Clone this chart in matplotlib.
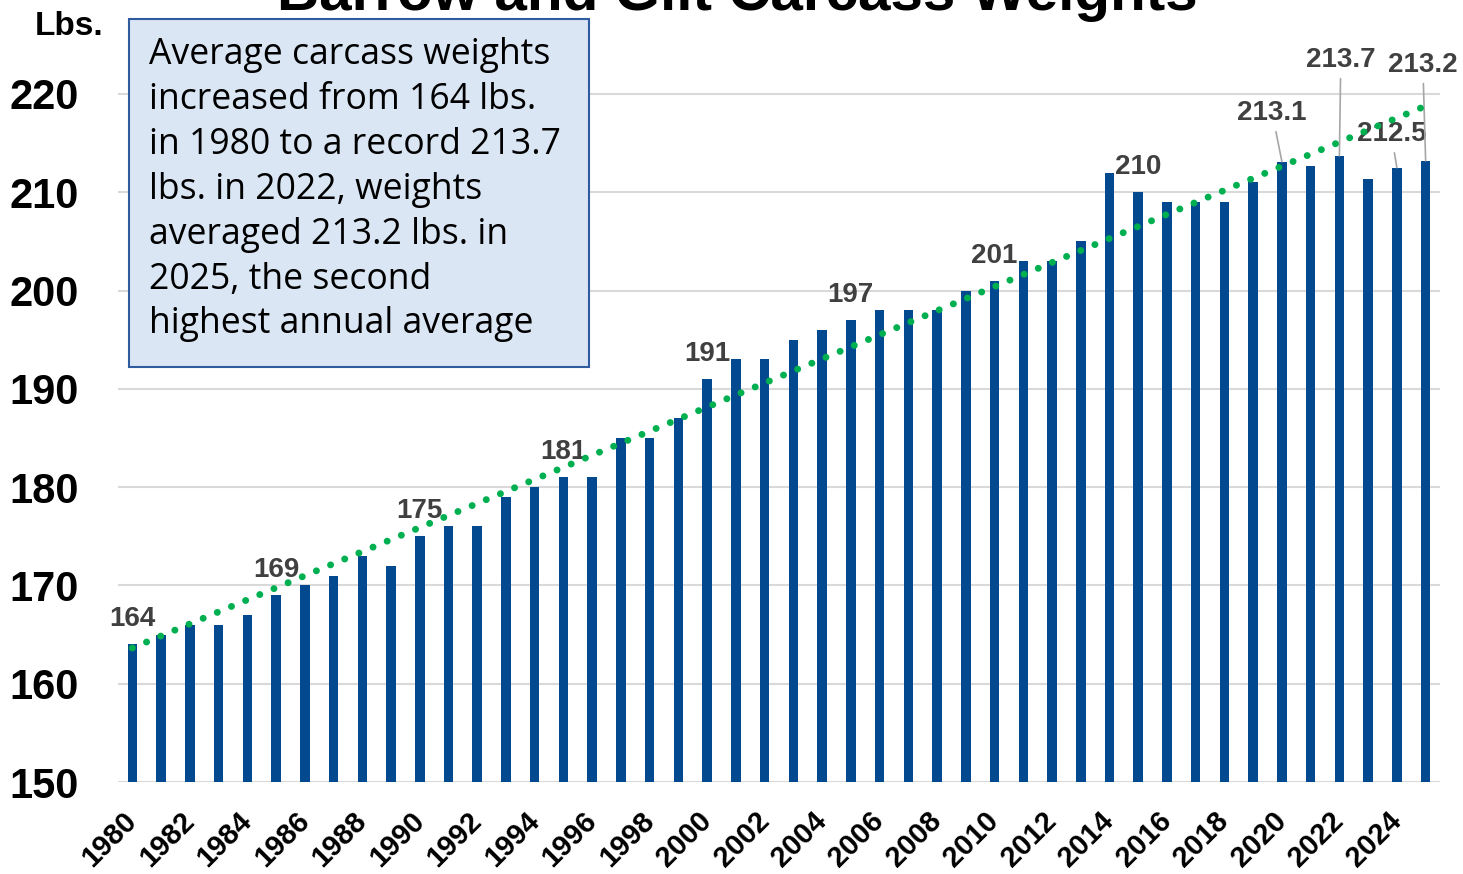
import numpy as np
import matplotlib.pyplot as plt
from matplotlib.patches import Rectangle

years = list(range(1980, 2026))
weights = [164, 165, 166, 166, 167, 169, 170, 171, 173, 172,
           175, 176, 176, 179, 180, 181, 181, 185, 185, 187,
           191, 193, 193, 195, 196, 197, 198, 198, 198, 200,
           201, 203, 203, 205, 212, 210, 209, 209, 209, 211,
           213.1, 212.7, 213.7, 211.4, 212.5, 213.2]
label_years = [1980, 1985, 1990, 1995, 2000, 2005, 2010, 2015, 2020, 2022, 2024, 2025]
label_texts = ["164", "169", "175", "181", "191", "197", "201", "210",
               "213.1", "213.7", "212.5", "213.2"]
tick_years = list(range(1980, 2025, 2))
title = "Barrow and Gilt Carcass Weights"
note = ("Average carcass weights\nincreased from 164 lbs.\nin 1980 to a record 213.7\n"
        "lbs. in 2022, weights\naveraged 213.2 lbs. in\n2025, the second\nhighest annual average")

W, H = 1463, 874
fig = plt.figure(figsize=(W / 100, H / 100), dpi=100)
ax = fig.add_axes([118 / W, 1 - 782 / H, (1440 - 118) / W, (782 - 35) / H])

bold = dict(family="Liberation Sans", weight="bold")

ax.bar(years, weights, width=0.33, color="#03498f", zorder=2)

# linear trend line
coef = np.polyfit(years, weights, 1)
trend = np.polyval(coef, years)
ax.plot(years, trend, color="#00b050", lw=5, linestyle=(0, (0.01, 2.2)),
        dash_capstyle="round", zorder=4)

ax.set_xlim(1979.5, 2025.5)
ax.set_ylim(150, 226)
ax.set_yticks(range(150, 221, 10))
ax.set_yticklabels([str(v) for v in range(150, 221, 10)], fontsize=30, **bold)
ax.set_xticks(tick_years)
ax.set_xticklabels([str(y) for y in tick_years], rotation=45, ha="right", va="center",
                   rotation_mode="anchor", fontsize=21, **bold)
ax.tick_params(axis="y", length=0, pad=28)
ax.tick_params(axis="x", length=0, pad=25)
ax.grid(axis="y", color="#d9d9d9", lw=1.5, zorder=0)
for s in ["top", "right", "left", "bottom"]:
    ax.spines[s].set_visible(False)

# data labels
offsets = {2020: (-7, 35), 2022: (1, 69), 2024: (-4, 24), 2025: (-2, 69)}
for yr, txt in zip(label_years, label_texts):
    val = weights[years.index(yr)]
    if yr in offsets:
        ax.annotate(txt, xy=(yr, val), xytext=offsets[yr], textcoords="offset points",
                    ha="center", va="center", fontsize=20, color="#404040", zorder=3,
                    arrowprops=dict(arrowstyle="-", color="#a6a6a6", lw=1.2,
                                    shrinkA=2, shrinkB=0), **bold)
    else:
        ax.annotate(txt, xy=(yr, val), xytext=(0, 18), textcoords="offset points",
                    ha="center", va="center", fontsize=20, color="#404040", zorder=3, **bold)

fig.text(737 / W, 1 - 10 / H, title, ha="center", va="baseline", fontsize=42, **bold)
fig.text(69 / W, 1 - 35 / H, "Lbs.", ha="center", va="baseline", fontsize=24, **bold)

fig.patches.append(Rectangle((129 / W, 1 - 367 / H), 460 / W, 348 / H,
                             transform=fig.transFigure, facecolor="#dae6f4",
                             edgecolor="#2f5c9e", lw=1.5, zorder=5))
fig.text(149 / W, 1 - 37 / H, note, ha="left", va="top", fontsize=25.6,
         family="Open Sans", linespacing=1.33, zorder=6)

fig.savefig("out.png", dpi=100)
